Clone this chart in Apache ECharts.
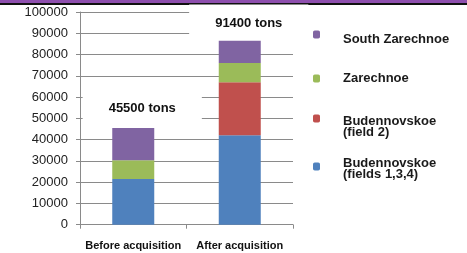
<!DOCTYPE html>
<html>
<head>
<meta charset="utf-8">
<script src="https://cdn.jsdelivr.net/npm/echarts@6/dist/echarts.min.js"></script>
<style>
  html, body { margin: 0; padding: 0; background: #fff; }
  #chart { width: 467px; height: 253px; }
</style>
</head>
<body>
<div id="chart"></div>
<script>
// data
var categories = ['Before acquisition', 'After acquisition'];
var budFields134 = [21500, 42000];
var budField2 = [0, 25000];
var zarechnoe = [8800, 9000];
var southZarechnoe = [15200, 10600];
var totalLabels = ['45500 tons', '91400 tons'];

var chartDom = document.getElementById('chart');
var myChart = echarts.init(chartDom);

// one legend per entry, the reference spaces them unevenly
const legendText = (name, top, spacer) => {
  return {
    data: [name],
    left: 313,
    top: top,
    padding: 0,
    itemWidth: 7,
    itemHeight: 8,
    selectedMode: false,
    formatter: (n) => {
      const lines = n.split('\n').map((l) => `{a|${l}}`).join('\n');
      return spacer ? `{sp| }\n${lines}` : lines;
    },
    textStyle: {
      color: '#1a1a1a',
      padding: [0, 0, 0, 18],
      rich: {
        a: {
          fontFamily: 'Liberation Sans',
          fontWeight: 'bold',
          fontSize: 13,
          lineHeight: 11,
          color: '#1a1a1a'
        },
        sp: { fontSize: 4, lineHeight: spacer }
      }
    }
  };
};

const totalLabel = (i) => {
  const pads = [[21, 26, 12, 26], [12, 26, 10, 26]];
  return {
    show: true,
    position: 'top',
    distance: 0,
    offset: [9, 0],
    formatter: totalLabels[i],
    backgroundColor: '#fff',
    padding: pads[i],
    fontFamily: 'Liberation Sans',
    fontWeight: 'bold',
    fontSize: 13,
    lineHeight: 14,
    color: '#111'
  };
};

const newSeries = (name, data, color) => {
  return {
    name: name,
    type: 'bar',
    stack: 'total',
    barWidth: 42,
    itemStyle: { color: color },
    data: data
  };
};

var topSeries = newSeries('South Zarechnoe', southZarechnoe.map((v, i) => {
  return { value: v, label: totalLabel(i) };
}), '#8064A2');

var option = {
  animation: false,
  grid: { left: 80, right: 174, top: 12, bottom: 28.3 },
  graphic: [
    { type: 'rect', shape: { x: 0, y: 0, width: 467, height: 3 }, style: { fill: '#8E4FAE' }, z: -10 },
    { type: 'rect', shape: { x: 0, y: 3, width: 467, height: 2 }, style: { fill: '#111' }, z: -10 }
  ],
  legend: [
    legendText('South Zarechnoe', 27, 10),
    legendText('Zarechnoe', 72, 0),
    legendText('Budennovskoe\n(field 2)', 105.5, 16),
    legendText('Budennovskoe\n(fields 1,3,4)', 153.5, 5)
  ],
  xAxis: {
    type: 'category',
    data: categories,
    axisLine: { lineStyle: { color: '#8a8a8a' } },
    axisTick: { show: true, length: 4, lineStyle: { color: '#8a8a8a' } },
    axisLabel: {
      interval: 0,
      margin: 16,
      fontFamily: 'Liberation Sans',
      fontWeight: 'bold',
      fontSize: 11,
      color: '#111'
    }
  },
  yAxis: {
    type: 'value',
    min: 0,
    max: 100000,
    interval: 10000,
    axisLine: { show: true, lineStyle: { color: '#8a8a8a' } },
    axisTick: { show: true, length: 4, lineStyle: { color: '#8a8a8a' } },
    splitLine: { lineStyle: { color: '#8a8a8a' } },
    axisLabel: {
      margin: 12,
      formatter: (v) => String(v),
      fontFamily: 'Liberation Sans',
      fontSize: 13,
      color: '#222'
    }
  },
  series: [
    newSeries('Budennovskoe\n(fields 1,3,4)', budFields134, '#4F81BD'),
    newSeries('Budennovskoe\n(field 2)', budField2, '#C0504D'),
    newSeries('Zarechnoe', zarechnoe, '#9BBB59'),
    topSeries
  ]
};

myChart.setOption(option);
</script>
</body>
</html>
